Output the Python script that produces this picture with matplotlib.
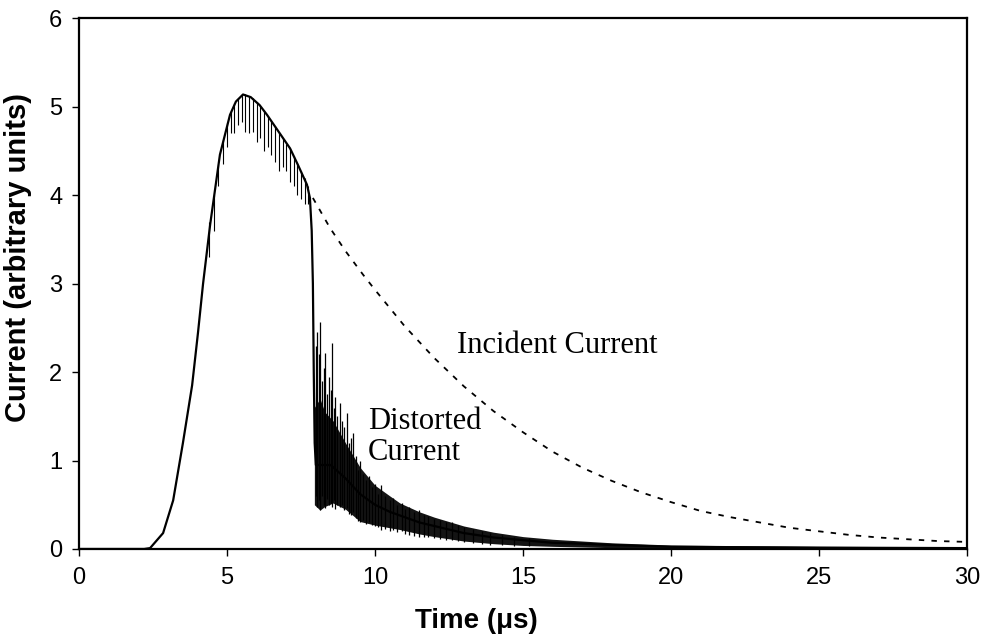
import matplotlib
matplotlib.use('Agg')
import matplotlib.pyplot as plt
import numpy as np

# incident current (dashed, after the distortion point)
inc_t = [7.9, 8.48, 9.0, 9.6, 10, 11, 12, 13, 14, 15, 16, 17, 18, 19, 20,
         21, 22, 23, 24, 25, 26, 27, 28, 29, 30]
inc_i = [3.97, 3.63, 3.37, 3.1, 2.93, 2.52, 2.16, 1.84, 1.56, 1.32, 1.1, 0.92, 0.77, 0.64, 0.53,
         0.43, 0.36, 0.3, 0.24, 0.2, 0.16, 0.13, 0.11, 0.09, 0.08]

# distorted current, main trace
dist_t = [0, 2.2, 2.4, 2.84, 3.18, 3.51, 3.82, 4.02, 4.19, 4.43, 4.76, 5.1, 5.3, 5.54, 5.8,
          6.1, 6.35, 6.7, 7.13, 7.4, 7.7, 7.8, 7.86, 7.9, 7.93, 7.96, 8.0, 8.1,
          8.5, 9.0, 9.5, 10, 10.5, 11, 11.5, 12, 13, 14, 15, 16, 17, 18, 19, 20, 22, 25, 30]
dist_i = [0, 0, 0.01, 0.18, 0.55, 1.2, 1.85, 2.45, 3.0, 3.67, 4.46, 4.91, 5.06, 5.14, 5.11,
          5.02, 4.91, 4.74, 4.53, 4.34, 4.12, 3.97, 3.6, 3.0, 2.0, 1.2, 0.95, 0.95,
          0.95, 0.8, 0.62, 0.5, 0.42, 0.36, 0.3, 0.26, 0.18, 0.13, 0.1, 0.07, 0.06, 0.045,
          0.035, 0.025, 0.02, 0.015, 0.01]

# dense noise band after the drop
band_t = [7.95, 8.14, 8.3, 8.58, 9.0, 9.5, 10, 10.5, 10.84, 11.5, 12, 13, 14, 15, 16, 18, 20, 25, 30]
band_lo = [0.5, 0.44, 0.48, 0.52, 0.45, 0.31, 0.27, 0.24, 0.22, 0.17, 0.14, 0.09, 0.06, 0.04,
           0.03, 0.015, 0.005, 0.0, 0.0]
band_hi = [1.6, 1.7, 1.55, 1.45, 1.2, 0.92, 0.72, 0.6, 0.52, 0.42, 0.36, 0.26, 0.19, 0.14,
           0.11, 0.07, 0.045, 0.03, 0.025]

# upward / downward spikes after the drop
spike_t = [8.0, 8.05, 8.1, 8.14, 8.2, 8.26, 8.31, 8.38, 8.45, 8.5, 8.55, 8.6, 8.65, 8.72,
           8.8, 8.87, 8.95, 9.05, 9.12, 9.2, 9.26, 9.34, 9.43, 9.5, 9.6, 9.7, 9.8, 9.9,
           10.0, 10.1, 10.2, 10.35, 10.5, 10.6, 10.75, 10.9, 11.0, 11.15, 11.3, 11.5, 11.65,
           11.8, 12.0, 12.2, 12.4, 12.6, 12.8, 13.0, 13.3, 13.6, 13.9, 14.3, 14.7, 15.2]
spike_top = [2.3, 2.45, 2.2, 2.57, 1.9, 2.05, 2.22, 1.75, 1.95, 1.8, 2.33, 1.6, 1.72, 1.5,
             1.65, 1.45, 1.38, 1.54, 1.2, 1.25, 1.31, 1.05, 0.89, 1.0, 0.85, 0.78, 0.82, 0.7,
             0.74, 0.62, 0.72, 0.6, 0.55, 0.58, 0.5, 0.52, 0.45, 0.47, 0.42, 0.44, 0.38,
             0.37, 0.34, 0.33, 0.3, 0.31, 0.27, 0.25, 0.23, 0.2, 0.18, 0.16, 0.14, 0.12]
spike_bot = [0.6, 0.48, 0.55, 0.44, 0.6, 0.5, 0.46, 0.56, 0.5, 0.52, 0.48, 0.55, 0.45, 0.5,
             0.47, 0.5, 0.44, 0.46, 0.4, 0.38, 0.42, 0.35, 0.32, 0.31, 0.33, 0.28, 0.3, 0.27,
             0.26, 0.25, 0.22, 0.23, 0.2, 0.21, 0.19, 0.2, 0.17, 0.16, 0.15, 0.14, 0.13,
             0.13, 0.12, 0.11, 0.1, 0.1, 0.09, 0.08, 0.07, 0.06, 0.05, 0.04, 0.03, 0.03]

# downward spikes on the crest
crest_t = [4.4, 4.55, 4.7, 4.85, 5.0, 5.12, 5.25, 5.38, 5.5, 5.62, 5.75, 5.88, 6.0, 6.12,
           6.25, 6.38, 6.5, 6.62, 6.75, 6.88, 7.0, 7.12, 7.25, 7.38, 7.5, 7.62, 7.74]
crest_top = [3.7, 4.0, 4.35, 4.62, 4.82, 4.95, 5.04, 5.1, 5.13, 5.14, 5.12, 5.1, 5.06, 5.01,
             4.96, 4.9, 4.84, 4.78, 4.71, 4.64, 4.58, 4.52, 4.44, 4.36, 4.28, 4.2, 4.1]
crest_bot = [3.3, 3.6, 4.1, 4.35, 4.55, 4.7, 4.7, 4.8, 4.83, 4.72, 4.7, 4.72, 4.6, 4.65, 4.5,
             4.55, 4.45, 4.38, 4.27, 4.32, 4.27, 4.15, 4.1, 4.0, 3.96, 3.9, 3.9]

plt.rcParams['font.family'] = ['Liberation Sans', 'DejaVu Sans']

fig = plt.figure(figsize=(9.83, 6.4), dpi=100)
ax = fig.add_axes([0.0804, 0.1422, 0.9034, 0.829])

ax.fill_between(band_t, band_lo, band_hi, color='black', alpha=0.92, linewidth=0)
ax.vlines(spike_t, spike_bot, spike_top, color='black', linewidth=0.9)
ax.vlines(crest_t, crest_bot, crest_top, color='black', linewidth=0.8)
ax.plot(dist_t, dist_i, color='black', linewidth=1.6)
ax.plot(inc_t, inc_i, color='black', linewidth=1.3, linestyle=(0, (3, 4)))

ax.text(12.77, 2.3, 'Incident Current', family='Liberation Serif', fontsize=22, va='center')
ax.text(9.76, 1.27, 'Distorted\nCurrent', family='Liberation Serif', fontsize=22,
        va='center', linespacing=1.1)

ax.set_xlim(0, 30)
ax.set_ylim(0, 6)
ax.set_xticks([0, 5, 10, 15, 20, 25, 30])
ax.set_yticks([0, 1, 2, 3, 4, 5, 6])
ax.tick_params(labelsize=17, length=5, width=1, direction='out')
ax.tick_params(axis='x', pad=8)
ax.tick_params(axis='y', pad=7)
for s in ax.spines.values():
    s.set_linewidth(1.6)

ax.set_xlabel('Time (\u03bcs)', fontsize=20, fontweight='bold')
ax.set_ylabel('Current (arbitrary units)', fontsize=21, fontweight='bold')
ax.xaxis.set_label_coords(0.447, -0.111)
ax.yaxis.set_label_coords(-0.053, 0.549)

fig.savefig('out.png', dpi=100)
